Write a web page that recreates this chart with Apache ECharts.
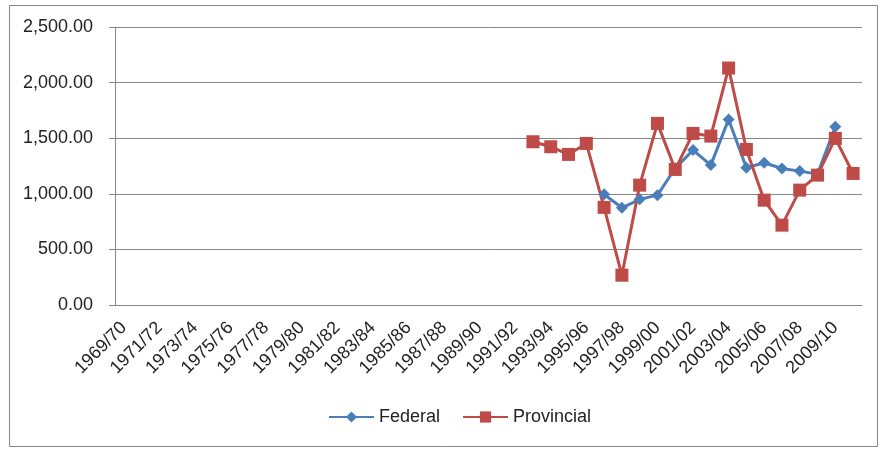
<!DOCTYPE html>
<html><head><meta charset="utf-8">
<script src="https://cdn.jsdelivr.net/npm/echarts@6/dist/echarts.min.js"></script>
<style>html,body{margin:0;padding:0;background:#fff}#c{width:882px;height:449px}</style>
</head><body><div id="c"></div>
<script>
const startYears = [];
for (let y = 1969; y <= 2010; y++) startYears.push(y);
const categories = startYears.map(y => y + '/' + String((y + 1) % 100).padStart(2, '0'));

const federal = [null,null,null,null,null,null,null,null,null,null,
  null,null,null,null,null,null,null,null,null,null,
  null,null,null,null,null,null,null,
  995, 874, 950, 988, 1230, 1393, 1258, 1669, 1234, 1279, 1228, 1204, 1177, 1603, null];
const provincial = [null,null,null,null,null,null,null,null,null,null,
  null,null,null,null,null,null,null,null,null,null,
  null,null,null,
  1468, 1423, 1354, 1453, 878, 268, 1078, 1633, 1219, 1543, 1519, 2131, 1399, 943, 718, 1033, 1168, 1498, 1183];

const fmt = v => v.toLocaleString('en-US', {minimumFractionDigits: 2, maximumFractionDigits: 2});
const font = 'Liberation Sans';
const chart = echarts.init(document.getElementById('c'));
chart.setOption({
  animation: false,
  textStyle: {fontFamily: font},
  graphic: [{type: 'rect', shape: {x: 9.5, y: 5.5, width: 868, height: 441},
    style: {fill: 'none', stroke: '#888', lineWidth: 1}}],
  grid: {left: 115, right: 20, top: 27, bottom: 144},
  legend: {bottom: 18, left: 323, itemWidth: 45, itemHeight: 14, itemGap: 22,
    textStyle: {fontSize: 18, color: '#222', fontFamily: font},
    data: ['Federal', 'Provincial']},
  xAxis: {type: 'category', data: categories, boundaryGap: true,
    axisLine: {lineStyle: {color: '#868686'}},
    axisTick: {alignWithLabel: false, interval: 0, length: 6, lineStyle: {color: '#868686'}},
    axisLabel: {interval: 1, rotate: 45, fontSize: 18, color: '#222', margin: 20, fontFamily: font}},
  yAxis: {type: 'value', min: 0, max: 2500, interval: 500,
    axisLine: {show: true, lineStyle: {color: '#868686'}},
    axisTick: {show: true, length: 6, lineStyle: {color: '#868686'}},
    splitLine: {lineStyle: {color: '#868686'}},
    axisLabel: {formatter: fmt, fontSize: 18, color: '#222', margin: 22, fontFamily: font}},
  series: [
    {name: 'Federal', type: 'line', data: federal, symbol: 'diamond', symbolSize: 12, showAllSymbol: true,
      color: '#4a7ebb', lineStyle: {width: 3}, itemStyle: {color: '#4a7ebb'}},
    {name: 'Provincial', type: 'line', data: provincial, symbol: 'rect', symbolSize: 13, showAllSymbol: true,
      color: '#be4b48', lineStyle: {width: 3}, itemStyle: {color: '#be4b48'}}
  ]
});
</script></body></html>
